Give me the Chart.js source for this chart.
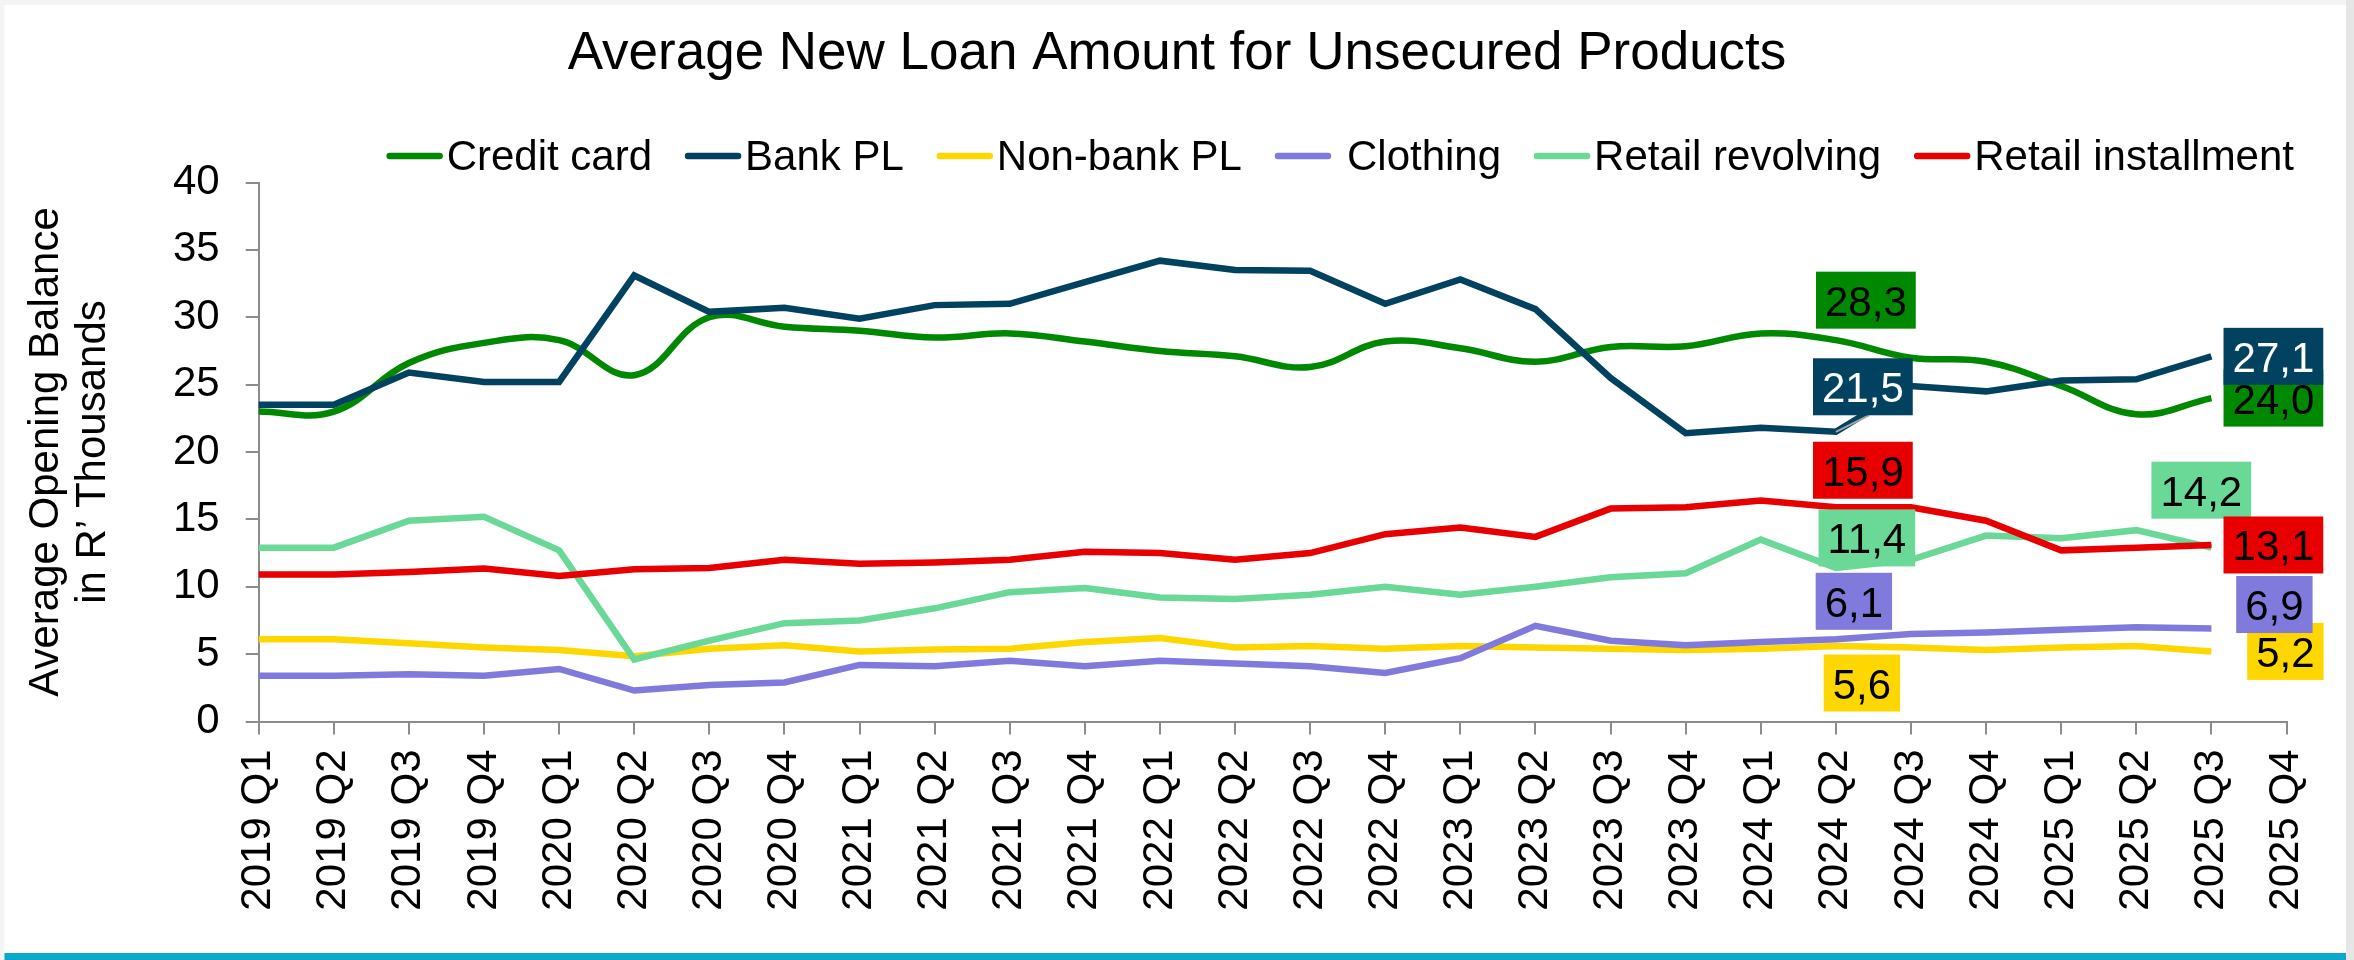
<!DOCTYPE html>
<html>
<head>
<meta charset="utf-8">
<title>Average New Loan Amount for Unsecured Products</title>
<script src="https://cdn.jsdelivr.net/npm/chart.js@4.4.1/dist/chart.umd.min.js"></script>
<style>
  html, body { margin: 0; padding: 0; background: #f2f2f2; }
  #wrap { position: relative; width: 2354px; height: 960px; }
</style>
</head>
<body>
<div id="wrap"><canvas id="loanChart"></canvas></div>
<script>
// Global styles
const FONT = "'Liberation Sans', Arial, sans-serif";
Chart.defaults.font.family = FONT;
Chart.defaults.color = '#000';

const axisGrey = '#8c8c8c';
const chartTitle = 'Average New Loan Amount for Unsecured Products';

// Quarters
const quarters = [
  '2019 Q1', '2019 Q2', '2019 Q3', '2019 Q4',
  '2020 Q1', '2020 Q2', '2020 Q3', '2020 Q4',
  '2021 Q1', '2021 Q2', '2021 Q3', '2021 Q4',
  '2022 Q1', '2022 Q2', '2022 Q3', '2022 Q4',
  '2023 Q1', '2023 Q2', '2023 Q3', '2023 Q4',
  '2024 Q1', '2024 Q2', '2024 Q3', '2024 Q4',
  '2025 Q1', '2025 Q2', '2025 Q3', '2025 Q4'
];

// Average opening balance, R' thousands (2025 Q4 not reported yet)
const creditCard = [23.0, 23.0, 26.6, 28.1, 28.3, 25.7, 30.0, 29.3, 29.0, 28.5, 28.8, 28.2, 27.5, 27.1,
  26.3, 28.2, 27.7, 26.7, 27.8, 27.85, 28.8, 28.3, 27.0, 26.7, 24.9, 22.8, 24.0, null];
const bankPL = [23.5, 23.5, 25.9, 25.2, 25.2, 33.1, 30.4, 30.7, 29.9, 30.9, 31.0, 32.6, 34.2, 33.5,
  33.45, 31.0, 32.8, 30.6, 25.5, 21.4, 21.8, 21.5, 24.9, 24.5, 25.3, 25.4, 27.1, null];
const nonBankPL = [6.1, 6.1, 5.8, 5.5, 5.3, 4.85, 5.4, 5.65, 5.2, 5.35, 5.4, 5.9, 6.2, 5.5,
  5.6, 5.4, 5.6, 5.5, 5.4, 5.3, 5.4, 5.6, 5.5, 5.3, 5.5, 5.6, 5.2, null];
const clothing = [3.4, 3.4, 3.5, 3.4, 3.9, 2.3, 2.7, 2.9, 4.2, 4.1, 4.5, 4.1, 4.5, 4.3,
  4.1, 3.6, 4.7, 7.1, 6.0, 5.65, 5.9, 6.1, 6.5, 6.6, 6.8, 7.0, 6.9, null];
const retailRevolving = [12.9, 12.9, 14.9, 15.2, 12.7, 4.6, 6.0, 7.3, 7.5, 8.4, 9.6, 9.9, 9.2, 9.1,
  9.4, 10.0, 9.4, 10.0, 10.7, 11.0, 13.5, 11.4, 12.0, 13.8, 13.6, 14.2, 12.9, null];
const retailInstallment = [10.9, 10.9, 11.1, 11.35, 10.8, 11.3, 11.4, 12.0, 11.7, 11.8, 12.0, 12.6, 12.5, 12.0,
  12.5, 13.9, 14.4, 13.7, 15.8, 15.9, 16.4, 15.9, 15.9, 14.9, 12.7, 12.9, 13.1, null];

const yTicks = [0, 5, 10, 15, 20, 25, 30, 35, 40];

// Value call-outs: dataset, point index, box offset from the point, text colour
const callouts = [
  { ds: 0, i: 21, dx: 30, dy: -40, text: '#000' },
  { ds: 1, i: 21, dx: 27, dy: -45, text: '#fff', leader: true },
  { ds: 5, i: 21, dx: 27, dy: -37, text: '#000' },
  { ds: 4, i: 21, dx: 31, dy: -30, text: '#000' },
  { ds: 3, i: 21, dx: 18, dy: -38, text: '#000' },
  { ds: 2, i: 21, dx: 26, dy: 37, text: '#000' },
  { ds: 4, i: 25, dx: 65, dy: -40, text: '#000' },
  { ds: 0, i: 26, dx: 62, dy: 0, text: '#000' },
  { ds: 1, i: 26, dx: 62, dy: 0, text: '#fff' },
  { ds: 5, i: 26, dx: 62, dy: 0, text: '#000' },
  { ds: 2, i: 26, dx: 74, dy: 0, text: '#000' },
  { ds: 3, i: 26, dx: 63, dy: -24, text: '#000' }
];

// Page frame: grey surround, white panel, cyan rule at the bottom
const framePlugin = {
  id: 'frame',
  beforeDraw(chart) {
    const { ctx, width, height } = chart;
    ctx.save();
    ctx.fillStyle = '#f4f4f4';
    ctx.fillRect(0, 0, width, height);
    ctx.fillStyle = '#e6e6e6';
    ctx.fillRect(width - 8, 0, 8, height);
    ctx.fillStyle = '#ffffff';
    ctx.fillRect(4.5, 5, width - 12.5, height - 12);
    ctx.fillStyle = '#0aa8cc';
    ctx.fillRect(4.5, height - 7, width - 12.5, 7);
    ctx.restore();
  }
};

// Title centred on the page, then a legend of short thick line samples
const header = {
  id: 'header',
  afterDraw(chart, args, opts) {
    const { ctx } = chart;
    ctx.save();
    ctx.fillStyle = '#000';
    ctx.textAlign = 'center';
    ctx.textBaseline = 'alphabetic';
    ctx.font = `${opts.titleSize}px ${FONT}`;
    ctx.fillText(opts.title, chart.width / 2, opts.titleBaseline);

    ctx.font = `${opts.size}px ${FONT}`;
    ctx.textAlign = 'left';
    ctx.lineCap = 'round';
    const items = chart.data.datasets.map((ds, k) => ({
      text: ds.label, color: ds.borderColor, w: ctx.measureText(ds.label).width,
      gap: opts.gap + (opts.extraGap[k] || 0)
    }));
    const total = items.reduce((s, it) => s + opts.sample + it.gap + it.w, 0) + opts.spacing * (items.length - 1);
    let x = opts.right - total;
    items.forEach(it => {
      ctx.strokeStyle = it.color;
      ctx.lineWidth = 6.5;
      ctx.beginPath();
      ctx.moveTo(x + 3, opts.lineY);
      ctx.lineTo(x + opts.sample - 3, opts.lineY);
      ctx.stroke();
      x += opts.sample + it.gap;
      ctx.fillStyle = '#000';
      ctx.fillText(it.text, x, opts.baseline);
      x += it.w + opts.spacing;
    });
    ctx.restore();
  }
};

// Coloured value boxes next to selected points
const calloutPlugin = {
  id: 'callouts',
  afterDatasetsDraw(chart, args, opts) {
    const { ctx } = chart;
    ctx.save();
    ctx.font = `${opts.size}px ${FONT}`;
    ctx.textAlign = 'center';
    ctx.textBaseline = 'alphabetic';
    opts.items.forEach(c => {
      const ds = chart.data.datasets[c.ds];
      const pt = chart.getDatasetMeta(c.ds).data[c.i];
      const label = ds.data[c.i].toFixed(1).replace('.', ',');
      const w = ctx.measureText(label).width + 2 * opts.padX;
      const h = opts.boxH;
      const cx = pt.x + c.dx;
      const cy = pt.y + c.dy;
      if (c.leader) {
        ctx.strokeStyle = '#a6a6a6';
        ctx.lineWidth = 2;
        ctx.beginPath();
        ctx.moveTo(pt.x, pt.y);
        ctx.lineTo(cx + 6, cy + h / 2);
        ctx.stroke();
      }
      ctx.fillStyle = ds.borderColor;
      ctx.fillRect(cx - w / 2, cy - h / 2, w, h);
      ctx.fillStyle = c.text;
      ctx.fillText(label, cx, cy + 15.5);
    });
    ctx.restore();
  }
};

const series = [
  { label: 'Credit card', data: creditCard, color: '#008800', tension: 0.4 },
  { label: 'Bank PL', data: bankPL, color: '#004260', tension: 0 },
  { label: 'Non-bank PL', data: nonBankPL, color: '#ffd700', tension: 0 },
  { label: 'Clothing', data: clothing, color: '#807adc', tension: 0 },
  { label: 'Retail revolving', data: retailRevolving, color: '#6ad896', tension: 0 },
  { label: 'Retail installment', data: retailInstallment, color: '#e80000', tension: 0 }
];

const ctx = document.getElementById('loanChart').getContext('2d');

new Chart(ctx, {
  type: 'line',
  data: {
    labels: quarters,
    datasets: series.map((s, k) => ({
      label: s.label,
      data: s.data,
      borderColor: s.color,
      backgroundColor: s.color,
      borderWidth: 6.5,
      pointRadius: 0,
      tension: s.tension,
      fill: false,
      order: series.length - k // later series sit on top
    }))
  },
  plugins: [framePlugin, header, calloutPlugin],
  options: {
    responsive: true,
    maintainAspectRatio: false,
    animation: false,
    layout: { padding: { top: 182.5, right: 67.5, bottom: 0, left: 0 } },
    plugins: {
      legend: { display: false },
      title: { display: false },
      tooltip: { enabled: false },
      header: {
        title: chartTitle, titleSize: 53, titleBaseline: 69,
        size: 42, baseline: 170, lineY: 156,
        right: 2294, sample: 56, gap: 4, spacing: 33, extraGap: { 3: 12 }
      },
      callouts: { items: callouts, size: 42, padX: 9, boxH: 57 }
    },
    scales: {
      x: {
        offset: false,
        grid: { drawOnChartArea: false, drawTicks: true, tickLength: 13, color: axisGrey, lineWidth: 2, offset: false },
        border: { color: axisGrey, width: 2 },
        ticks: { autoSkip: false, minRotation: 90, maxRotation: 90, padding: 15, color: '#000', font: { size: 42 } },
        afterFit(scale) { scale.height = 238.5; }
      },
      y: {
        min: yTicks[0],
        max: yTicks[yTicks.length - 1],
        afterBuildTicks(scale) { scale.ticks = yTicks.map(v => ({ value: v })); },
        grid: { drawOnChartArea: false, drawTicks: true, tickLength: 13, color: axisGrey, lineWidth: 2 },
        border: { color: axisGrey, width: 2 },
        ticks: { padding: 26, color: '#000', font: { size: 42 } },
        title: {
          display: true,
          text: ['Average Opening Balance', 'in R\u2019 Thousands'],
          color: '#000',
          font: { size: 42, lineHeight: 1.12 },
          padding: { top: 23, bottom: 0 }
        },
        afterFit(scale) { scale.width = 258.7; }
      }
    }
  }
});
</script>
</body>
</html>
